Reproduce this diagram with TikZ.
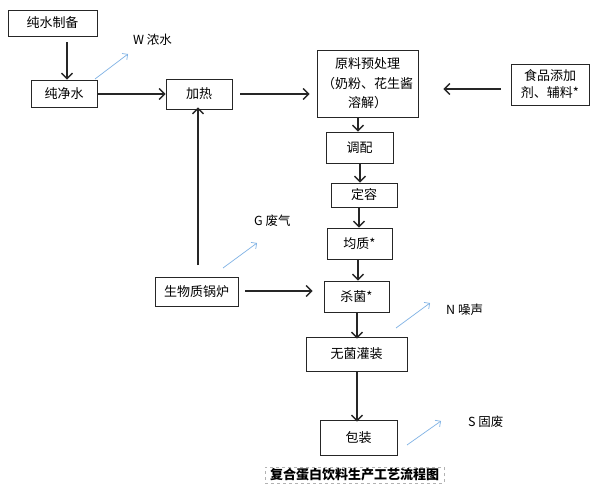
\documentclass[tikz,border=0pt]{standalone}
\usepackage{fontspec}
\newfontfamily\cjk{Noto Sans CJK SC}
\usetikzlibrary{arrows.meta}
\definecolor{lblue}{HTML}{7FB2E5}
\tikzset{
  box/.style={draw=black!85, line width=0.8pt, inner sep=1pt, align=center,
    font=\cjk\fontsize{13}{18}\selectfont, text=black},
  flow/.style={line width=1.4pt, black!85, -{Straight Barb[length=5.5pt,width=11pt,line width=1.4pt]}},
  emit/.style={line width=0.7pt, lblue, -{Straight Barb[length=4pt,width=8pt,line width=0.7pt]}},
  lab/.style={anchor=west, inner sep=0pt, font=\cjk\fontsize{12.5}{15}\selectfont, text=black},
  captionbox/.style={draw=black!30, dashed, line width=0.5pt, inner sep=1pt,
    font=\cjk\bfseries\fontsize{13}{15}\selectfont}
}
\begin{document}
\begin{tikzpicture}[x=1pt,y=-1pt]
\useasboundingbox[fill=white] (0,0) rectangle (594,495);
\node[box, minimum width=89pt, minimum height=26pt] (pure) at (52.5,23) {纯水制备};
\node[box, minimum width=66pt, minimum height=27pt] (jing) at (64,93.5) {纯净水};
\node[box, minimum width=66pt, minimum height=30pt] (heat) at (199,94) {加热};
\node[box, minimum width=101pt, minimum height=67pt, font=\cjk\fontsize{13}{19.5}\selectfont] (raw) at (367.5,83.5) {原料预处理\\（奶粉、花生酱\\溶解）};
\node[box, minimum width=78pt, minimum height=41pt, font=\cjk\fontsize{13}{17}\selectfont] (add) at (550,84.5) {食品添加\\剂、辅料*};
\node[box, minimum width=67pt, minimum height=31pt] (tp) at (359.5,147.5) {调配};
\node[box, minimum width=66pt, minimum height=24pt] (dr) at (364,195) {定容};
\node[box, minimum width=65pt, minimum height=31pt] (jz) at (359.5,243.5) {均质*};
\node[box, minimum width=65pt, minimum height=31pt] (sj) at (356.5,296.5) {杀菌*};
\node[box, minimum width=83pt, minimum height=29pt] (boiler) at (196.5,291.5) {生物质锅炉};
\node[box, minimum width=101pt, minimum height=34pt] (fill) at (356.5,354) {无菌灌装};
\node[box, minimum width=77pt, minimum height=35pt] (pack) at (358.5,437.5) {包装};
\node[captionbox, minimum width=179pt, minimum height=16pt] (caption) at (354.5,475) {复合蛋白饮料生产工艺流程图};

% emission labels
\node[lab] (w) at (133,40) {W 浓水};
\node[lab] (g) at (254,221) {G 废气};
\node[lab] (n) at (446,310) {N 噪声};
\node[lab] (s) at (468,422) {S 固废};

% main flow
\draw[flow] ([yshift=-6pt]pure.south -| 67,0) -- (67,0 |- jing.north);
\draw[flow] (jing.east |- 0,94) -- (heat.west |- 0,94);
\draw[flow, shorten <=8pt, shorten >=7pt] (heat.east) -- (heat.east -| raw.west);
\draw[flow, shorten <=10pt, shorten >=25pt] (add.west |- 0,89) -- (raw.east |- 0,89);
\draw[flow] (358,0 |- raw.south) -- (358,0 |- tp.north);
\draw[flow] (360,0 |- tp.south) -- (360,0 |- dr.north);
\draw[flow] (359,0 |- dr.south) -- (359,0 |- jz.north);
\draw[flow] (358,0 |- jz.south) -- (358,0 |- sj.north);
\draw[flow] (357,0 |- sj.south) -- ([yshift=-2pt]357,0 |- fill.north);
\draw[flow] (357,0 |- fill.south) -- ([yshift=-2pt]357,0 |- pack.north);
\draw[flow, shorten <=7pt, shorten >=11pt] (boiler.east |- 0,291) -- (sj.west |- 0,291);
\coordinate (up) at (198,265);
\draw[flow, shorten >=-2pt] (up) -- (up |- heat.south);

% emissions
\coordinate (w0) at (95,79);   \coordinate (w1) at (128,54);
\coordinate (g0) at (223,268); \coordinate (g1) at (257,243);
\coordinate (n0) at (396,328); \coordinate (n1) at (430,303);
\coordinate (s0) at (407,445); \coordinate (s1) at (441,421);
\draw[emit] (w0) -- (w1);
\draw[emit] (g0) -- (g1);
\draw[emit] (n0) -- (n1);
\draw[emit] (s0) -- (s1);
\end{tikzpicture}
\end{document}
